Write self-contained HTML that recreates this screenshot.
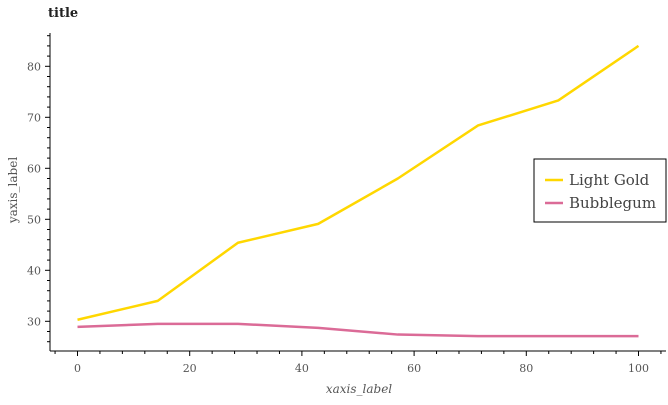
<!DOCTYPE html>
<html><head><meta charset="utf-8"><style>
body{margin:0;background:#fff;}
svg text{font-family:"DejaVu Serif","Liberation Serif",serif;}
</style></head><body>
<svg width="668" height="400" xmlns="http://www.w3.org/2000/svg">
<text x="48" y="17" font-size="13" font-weight="bold" fill="#222">title</text>
<g id="axes"></g>
<g id="lines"></g>
<text transform="translate(17,190) rotate(-90)" text-anchor="middle" font-size="12" fill="#555">yaxis_label</text>
<text x="359" y="393" text-anchor="middle" font-size="12" font-style="italic" fill="#555">xaxis_label</text>
<g>
<rect x="534" y="159" width="132" height="63" fill="#fff" stroke="#000" stroke-width="1"/>
<line x1="545" y1="180" x2="563" y2="180" stroke="#FFD700" stroke-width="2.5"/>
<text x="569" y="185" font-size="15" fill="#444">Light Gold</text>
<line x1="545" y1="203" x2="563" y2="203" stroke="#DB6B97" stroke-width="2.5"/>
<text x="569" y="208" font-size="15" fill="#444">Bubblegum</text>
</g>
</svg>
<script>
const xValues=[0,14.3,28.6,42.9,57.1,71.4,85.7,100];
const lightGold=[30.3,34,45.4,49.1,58,68.4,73.3,84];
const bubblegum=[28.9,29.5,29.5,28.7,27.4,27.1,27.1,27.1];
const xTicks=[0,20,40,60,80,100];
const yTicks=[30,40,50,60,70,80];
const ns="http://www.w3.org/2000/svg";
const X=v=>77.5+(v/100)*561;
const Y=v=>321.3-(v-30)*5.1;
function mk(tag,attrs,parent){const e=document.createElementNS(ns,tag);for(const k in attrs)e.setAttribute(k,attrs[k]);parent.appendChild(e);return e;}
const ax=document.getElementById('axes');
const yl=mk('line',{x1:50,y1:33,x2:50,y2:351,stroke:'#000'},ax);


const xl=mk('line',{x1:50,y1:351,x2:666,y2:351,stroke:'#000'},ax);


for(let v=24;v<=86;v+=2){const y=Y(v);if(y<33||y>351)continue;mk('line',{x1:v%10===0?45:47,y1:y,x2:50,y2:y,stroke:'#000'},ax);}
for(let v=-8;v<=104;v+=4){const x=X(v);if(x<50||x>666)continue;mk('line',{x1:x,y1:351,x2:x,y2:v%20===0?356:354,stroke:'#000'},ax);}
yTicks.forEach(v=>{const t=mk('text',{x:41,y:Y(v)+4,'text-anchor':'end','font-size':'11',fill:'#555'},ax);t.textContent=v;

});
xTicks.forEach(v=>{const t=mk('text',{x:X(v),y:372,'text-anchor':'middle','font-size':'11',fill:'#555'},ax);t.textContent=v;

});
const lg=document.getElementById('lines');
function line(vals,color,name){const p=mk('polyline',{points:vals.map((v,i)=>X(xValues[i])+','+Y(v)).join(' '),fill:'none',stroke:color,'stroke-width':2.5,'stroke-linejoin':'round'},lg);

}
line(lightGold,'#FFD700','line-light-gold');
line(bubblegum,'#DB6B97','line-bubblegum');
</script>
</body></html>
